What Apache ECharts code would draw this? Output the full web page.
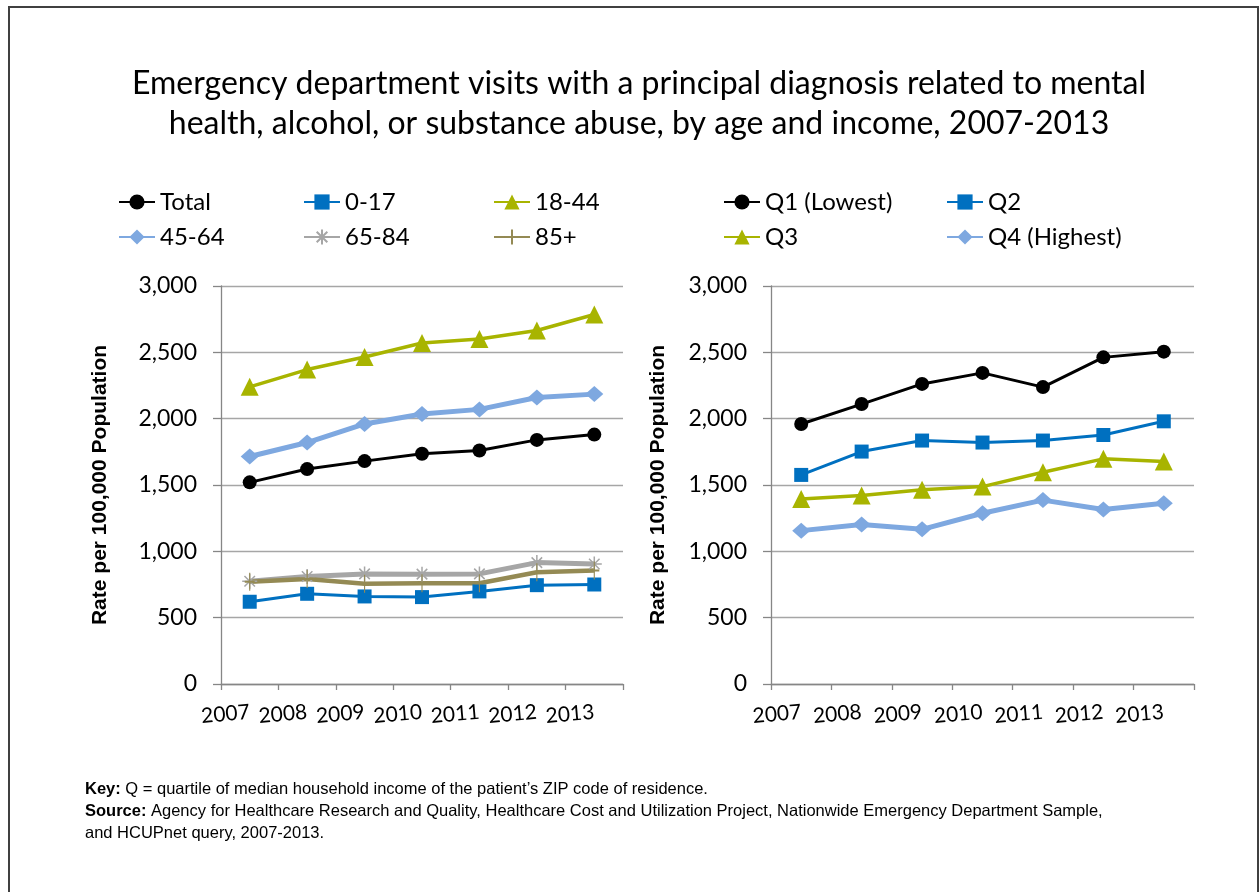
<!DOCTYPE html>
<html>
<head>
<meta charset="utf-8">
<script src="https://cdn.jsdelivr.net/npm/echarts@6/dist/echarts.min.js"></script>
<style>
  html, body { margin: 0; padding: 0; background: #fff; }
  #chart { width: 1260px; height: 892px; }
</style>
</head>
<body>
<div id="chart"></div>
<script>
// data
const years = ['2007', '2008', '2009', '2010', '2011', '2012', '2013'];
const total = [1520, 1620, 1680, 1735, 1760, 1840, 1880];
const age0_17 = [620, 680, 660, 655, 698, 745, 750];
const age18_44 = [2240, 2370, 2465, 2570, 2600, 2665, 2785];
const age45_64 = [1715, 1820, 1960, 2035, 2070, 2160, 2185];
const age65_84 = [775, 810, 830, 828, 830, 915, 905];
const age85 = [770, 792, 755, 760, 760, 842, 855];
const q1 = [1960, 2110, 2262, 2345, 2238, 2462, 2505];
const q2 = [1576, 1752, 1835, 1820, 1835, 1877, 1980];
const q3 = [1395, 1420, 1465, 1488, 1596, 1697, 1678];
const q4 = [1156, 1202, 1166, 1287, 1386, 1315, 1362];
const yTicks = [0, 500, 1000, 1500, 2000, 2500, 3000];

const FONT = 'Lato, "Open Sans", sans-serif';
const ARIAL = '"Liberation Sans", Arial, sans-serif';

const BLACK = '#000000', BLUE = '#0070C0', OLIVE = '#A8B400', LIGHTBLUE = '#7EA8E0', GRAY = '#A6A6A6', BROWN = '#948A54';
const ASTERISK = 'path://M10,0L10,20M0,10L20,10M3,3L17,17M17,3L3,17';
const PLUS = 'path://M10,0L10,20M5,10L15,10';

function line(name, data, idx, color, width, symbol, size, extra) {
  return Object.assign({
    name: name,
    type: 'line',
    xAxisIndex: idx,
    yAxisIndex: idx,
    data: data,
    symbol: symbol,
    symbolSize: size,
    lineStyle: { color: color, width: width },
    itemStyle: { color: color },
    z: 3
  }, extra || {});
}

function xAxis(idx) {
  return {
    type: 'category', gridIndex: idx, data: years, boundaryGap: true,
    axisLine: { lineStyle: { color: '#868686', width: 1.3 } },
    axisTick: { show: true, length: 6, interval: 0, lineStyle: { color: '#868686', width: 1.3 } },
    axisLabel: { interval: 0, rotate: 5, margin: 28, fontFamily: FONT, fontSize: 21, color: '#000' }
  };
}

function yAxis(idx, gap) {
  return {
    type: 'value', gridIndex: idx, min: 0, max: 3000, interval: 500,
    name: 'Rate per 100,000 Population', nameLocation: 'middle', nameGap: gap,
    nameTextStyle: { fontFamily: ARIAL, fontWeight: 'bold', fontSize: 21, color: '#000' },
    axisLine: { show: true, lineStyle: { color: '#868686', width: 1.3 } },
    axisTick: { show: true, length: 8, lineStyle: { color: '#868686', width: 1.3 } },
    splitLine: { lineStyle: { color: '#A6A6A6', width: 1.3 } },
    axisLabel: {
      margin: 24, fontFamily: FONT, fontSize: 23, color: '#000',
      formatter: v => yTicks.indexOf(v) >= 0 ? v.toLocaleString('en-US') : ''
    }
  };
}

function legendAt(name, left, top) {
  return {
    data: [name], left: left, top: top, itemWidth: 36, itemHeight: 19,
    selectedMode: false, padding: 0,
    textStyle: { fontFamily: FONT, fontSize: 24, color: '#000' }
  };
}

const myChart = echarts.init(document.getElementById('chart'));

const option = {
  animation: false,
  backgroundColor: '#fff',
  title: {
    text: 'Emergency department visits with a principal diagnosis related to mental\nhealth, alcohol, or substance abuse, by age and income, 2007-2013',
    left: 634, top: 59, textAlign: 'center',
    textStyle: { fontFamily: FONT, fontSize: 32, fontWeight: 'normal', color: '#000', lineHeight: 40 }
  },
  legend: [
    legendAt('Total', 118, 190), legendAt('0-17', 303, 190), legendAt('18-44', 493, 190),
    legendAt('45-64', 118, 225), legendAt('65-84', 303, 225), legendAt('85+', 493, 225),
    legendAt('Q1 (Lowest)', 723, 190), legendAt('Q2', 946, 190),
    legendAt('Q3', 723, 225), legendAt('Q4 (Highest)', 946, 225)
  ],
  grid: [
    { left: 221, top: 286, width: 402, height: 398 },
    { left: 771, top: 286, width: 423, height: 398 }
  ],
  xAxis: [xAxis(0), xAxis(1)],
  yAxis: [yAxis(0, 110), yAxis(1, 102)],
  series: [
    line('Total', total, 0, BLACK, 3, 'circle', 14),
    line('0-17', age0_17, 0, BLUE, 3, 'rect', 14),
    line('18-44', age18_44, 0, OLIVE, 3.5, 'triangle', 18),
    line('45-64', age45_64, 0, LIGHTBLUE, 5, 'diamond', [18, 16]),
    line('65-84', age65_84, 0, GRAY, 5, ASTERISK, 15, { itemStyle: { color: GRAY, borderColor: GRAY, borderWidth: 1.5 } }),
    line('85+', age85, 0, BROWN, 4.5, PLUS, [10, 18], { itemStyle: { color: BROWN, borderColor: BROWN, borderWidth: 1.5 } }),
    line('Q1 (Lowest)', q1, 1, BLACK, 3, 'circle', 14),
    line('Q2', q2, 1, BLUE, 3, 'rect', 14),
    line('Q3', q3, 1, OLIVE, 3.5, 'triangle', 18),
    line('Q4 (Highest)', q4, 1, LIGHTBLUE, 5, 'diamond', [18, 16])
  ],
  graphic: [
    {
      type: 'rect', shape: { x: 9, y: 7, width: 1249, height: 900 },
      style: { fill: 'none', stroke: '#404040', lineWidth: 2 }, silent: true
    },
    {
      type: 'text', left: 85, top: 778,
      style: {
        text: '{b|Key:} Q = quartile of median household income of the patient\u2019s ZIP code of residence.\n{b|Source:} Agency for Healthcare Research and Quality, Healthcare Cost and Utilization Project, Nationwide Emergency Department Sample,\nand HCUPnet query, 2007-2013.',
        font: '16.5px ' + ARIAL, fill: '#000', lineHeight: 22,
        rich: { b: { fontWeight: 'bold', fontFamily: ARIAL, fontSize: 16.5, fill: '#000' } }
      }
    }
  ]
};

myChart.setOption(option);

window.addEventListener('resize', () => {
  myChart.resize();
});
</script>
</body>
</html>
